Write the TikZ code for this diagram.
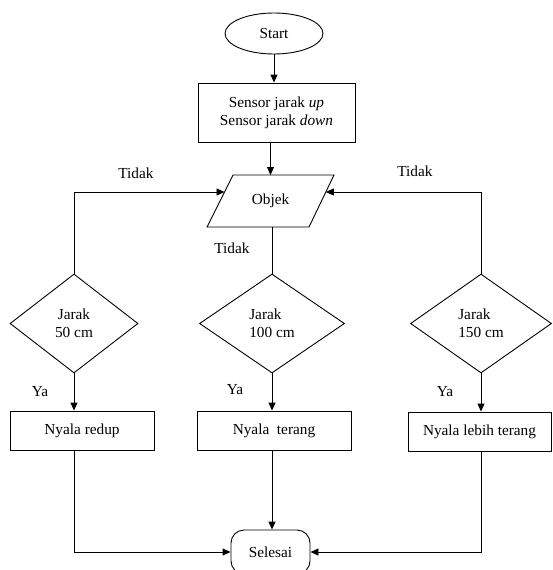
\documentclass[tikz,border=0pt]{standalone}
\usepackage{fontspec}
\setmainfont{Liberation Serif}
\usetikzlibrary{shapes.geometric,arrows.meta,calc}
\begin{document}
\begin{tikzpicture}[x=1pt,y=-1pt,
 font=\fontsize{15.3}{18}\selectfont,
 line width=0.9pt,
 arr/.style={-{Triangle[length=8pt,width=7pt]}},
 box/.style={draw,rectangle,inner sep=0pt,align=center},
 dec/.style={draw,diamond,inner sep=0pt,align=left},
 lbl/.style={inner sep=0pt}]
\useasboundingbox (0,0) rectangle (552,570);
\node[draw,ellipse,minimum width=98pt,minimum height=41pt,inner sep=0pt] (start) at (274,33.5) {Start};
\node[box,minimum width=157pt,minimum height=59pt] (sensor) at (276.5,112.5) {Sensor jarak \textit{up}\\Sensor jarak \textit{down}};
\node[inner sep=0pt] (obj) at (270.5,201) {Objek};
\coordinate (pTL) at ($(obj)+(-37.5,-26)$);
\coordinate (pTR) at ($(obj)+(63.5,-26)$);
\coordinate (pBR) at ($(obj)+(38.5,26)$);
\coordinate (pBL) at ($(obj)+(-63.5,26)$);
\coordinate (pT) at ($(obj)+(0,-26)$);
\coordinate (pB) at ($(obj)+(1.5,26)$);
\draw (pTL) -- (pTR) -- (pBR) -- (pBL) -- cycle;
\node[dec,align=center,minimum width=128pt,minimum height=99pt] (d1) at (74,323.5) {Jarak\\50 cm};
\node[dec,minimum width=145pt,minimum height=99pt] (d2) at (272,323.5) {Jarak\\100 cm};
\node[dec,minimum width=141pt,minimum height=99pt] (d3) at (481,323.5) {Jarak\\150 cm};
\node[box,minimum width=144pt,minimum height=39pt] (b1) at (82,430.5) {Nyala redup};
\node[box,minimum width=154pt,minimum height=39pt] (b2) at (274,430.5) {Nyala\ \ terang};
\node[box,minimum width=143pt,minimum height=39pt] (b3) at (479.5,431.5) {Nyala lebih terang};
\node[draw,rectangle,rounded corners=13pt,minimum width=79pt,minimum height=44pt,inner sep=0pt] (end) at (270.5,552) {Selesai};
\node[lbl] (t1) at (136,173) {Tidak};
\node[lbl] (t2) at (415,171) {Tidak};
\node[lbl] (t3) at (232,248) {Tidak};
\node[lbl] (y1) at (40,392) {Ya};
\node[lbl] (y2) at (235,390) {Ya};
\node[lbl] (y3) at (445,392) {Ya};
\coordinate (la) at ($(pTL)!0.327!(pBL)$);
\coordinate (ra) at ($(pTR)!0.327!(pBR)$);
\draw[arr] (start.south) -- (start.south |- sensor.north);
\draw[arr] (sensor.south -| pT) -- (pT);
\draw[arr] (d1.north) |- (la);
\draw[arr] (d3.north) |- (ra);
\draw (pB) -- (d2.north);
\draw[arr] (d1.south) -- (d1.south |- b1.north);
\draw[arr] (d2.south) -- (d2.south |- b2.north);
\draw[arr] (d3.south) -- (d3.south |- b3.north);
\draw[arr] (b1.south -| d1.south) |- (end.west);
\draw[arr] (b2.south -| d2.south) -- (d2.south |- end.north);
\draw[arr] (b3.south -| d3.south) |- (end.east);
\end{tikzpicture}
\end{document}
